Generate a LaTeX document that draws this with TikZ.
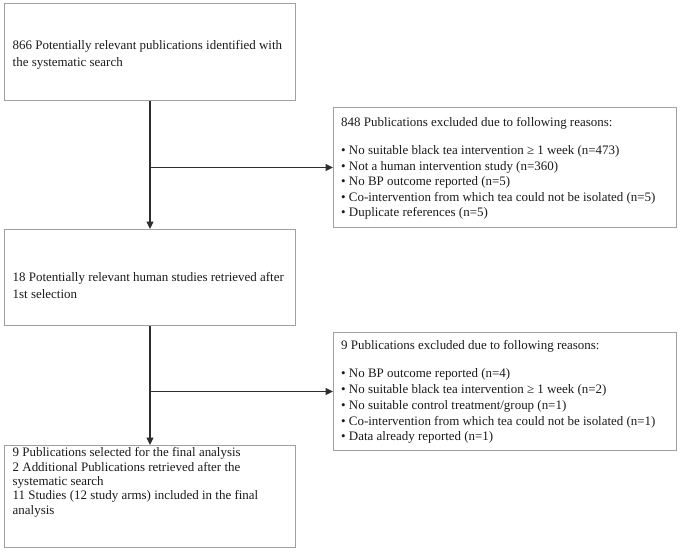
\documentclass[tikz,border=0pt]{standalone}
\usepackage{fontspec}
\setmainfont{Liberation Serif}
\usetikzlibrary{arrows.meta}
\definecolor{boxgray}{HTML}{A0A0A0}
\definecolor{linegray}{HTML}{2E2E2E}
\definecolor{txtcol}{HTML}{1A1A1A}
\begin{document}
\begin{tikzpicture}[x=1pt,y=-1pt,
  box/.style={draw=boxgray,line width=1pt,anchor=north west,inner sep=0pt},
  txt/.style={anchor=north west,inner sep=0pt,align=left,text=txtcol},
  conn/.style={draw=linegray,line width=1.4pt},
  arr/.style={conn,-{Triangle[length=7.5pt,width=7pt]}}]
\useasboundingbox (0,0) rectangle (680,552);
% boxes
\node[box,minimum width=291pt,minimum height=97pt] (b1) at (4,3) {};
\node[box,minimum width=343pt,minimum height=120pt] (b2) at (333,107) {};
\node[box,minimum width=291pt,minimum height=96pt] (b3) at (4,229) {};
\node[box,minimum width=343pt,minimum height=118pt] (b4) at (333,332) {};
\node[box,minimum width=291pt,minimum height=102pt] (b5) at (4,445) {};
% texts
\node[txt,font=\fontsize{12.95}{17}\selectfont] (t1) at (12.5,40.5)
  {866 Potentially relevant publications identified with\\the systematic search};
\node[txt,font=\fontsize{12.95}{15.5}\selectfont] (t2) at (341,117.5)
  {848 Publications excluded due to following reasons:\\[12.5pt]
   • No suitable black tea intervention ≥ 1 week (n=473)\\
   • Not a human intervention study (n=360)\\
   • No BP outcome reported (n=5)\\
   • Co-intervention from which tea could not be isolated (n=5)\\
   • Duplicate references (n=5)};
\node[txt,font=\fontsize{12.95}{17}\selectfont] (t3) at (12.5,272.5)
  {18 Potentially relevant human studies retrieved after\\1st selection};
\node[txt,font=\fontsize{12.95}{15.75}\selectfont] (t4) at (341,340.5)
  {9 Publications excluded due to following reasons:\\[12.25pt]
   • No BP outcome reported (n=4)\\
   • No suitable black tea intervention ≥ 1 week (n=2)\\
   • No suitable control treatment/group (n=1)\\
   • Co-intervention from which tea could not be isolated (n=1)\\
   • Data already reported (n=1)};
\node[txt,font=\fontsize{12.95}{14.3}\selectfont] (t5) at (12.5,447.5)
  {9 Publications selected for the final analysis\\
   2 Additional Publications retrieved after the\\
   systematic search\\
   11 Studies (12 study arms) included in the final\\
   analysis};
% connectors
\draw[arr] (b1.south) -- (b3.north);
\draw[arr] (b1.south |- b2.west) -- (b2.west);
\draw[arr] (b3.south) -- (b5.north);
\draw[arr] (b3.south |- b4.west) -- (b4.west);
\end{tikzpicture}
\end{document}
